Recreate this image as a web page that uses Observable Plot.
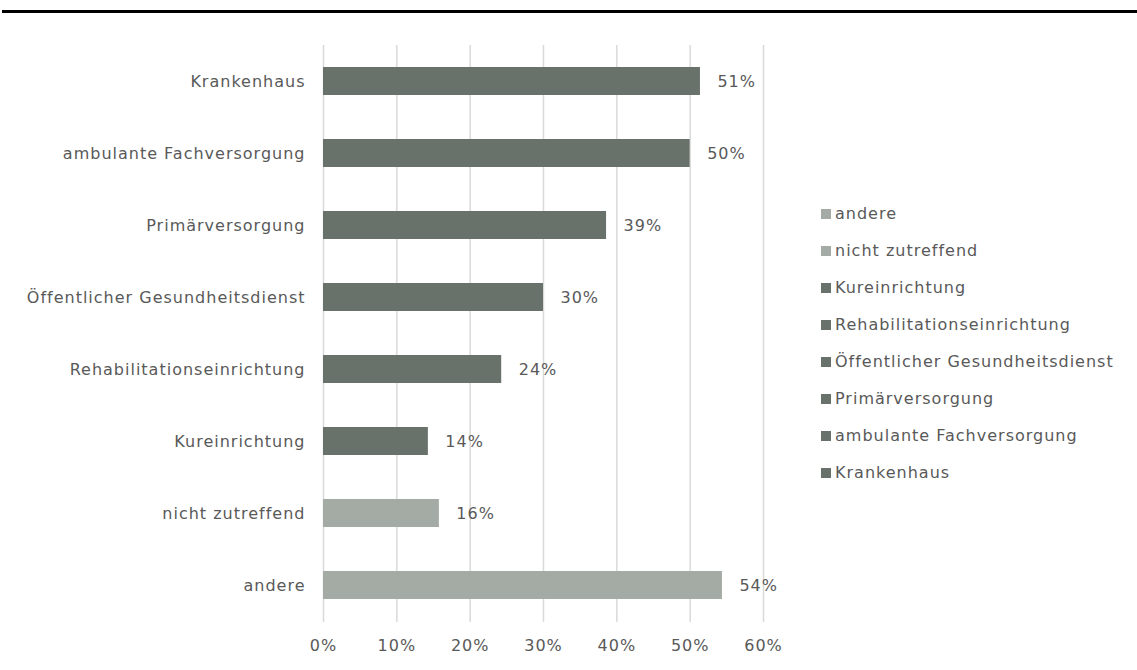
<!DOCTYPE html>
<html>
<head>
<meta charset="utf-8">
<script src="https://cdn.jsdelivr.net/npm/d3@7"></script>
<script src="https://cdn.jsdelivr.net/npm/@observablehq/plot@0.6"></script>
<style>
  html, body { margin: 0; padding: 0; background: #fff; }
  body { width: 1137px; height: 670px; position: relative; overflow: hidden; font-family: "DejaVu Sans", sans-serif; }
  #chart { position: absolute; left: 0; top: 0; }
  #topline { position: absolute; left: 2px; top: 10px; width: 1135px; height: 3px; background: #000; z-index: 2; }
  #legend { position: absolute; left: 821px; top: 195px; font-size: 16px; letter-spacing: 1px; color: #595959; z-index: 2; }
  .item { height: 37px; line-height: 37px; white-space: nowrap; }
  .sw { display: inline-block; width: 10px; height: 10px; margin-right: 4px; vertical-align: 0px; }
</style>
</head>
<body>
<div id="chart"></div>
<div id="topline"></div>
<div id="legend"></div>
<script>
const categories = ["Krankenhaus", "ambulante Fachversorgung", "Primärversorgung", "Öffentlicher Gesundheitsdienst", "Rehabilitationseinrichtung", "Kureinrichtung", "nicht zutreffend", "andere"];
const values = [0.514, 0.500, 0.386, 0.300, 0.243, 0.143, 0.158, 0.544];
const labels = ["51%", "50%", "39%", "30%", "24%", "14%", "16%", "54%"];
const groups = ["dark", "dark", "dark", "dark", "dark", "dark", "light", "light"];
const xTicks = [0, 0.1, 0.2, 0.3, 0.4, 0.5, 0.6];
const legendOrder = ["andere", "nicht zutreffend", "Kureinrichtung", "Rehabilitationseinrichtung", "Öffentlicher Gesundheitsdienst", "Primärversorgung", "ambulante Fachversorgung", "Krankenhaus"];

const colorOf = {dark: "#68716a", light: "#a3aba4"};
const data = categories.map((c, i) => ({cat: c, value: values[i], label: labels[i], group: groups[i]}));

const chart = Plot.plot({
  width: 1137,
  height: 670,
  marginLeft: 323,
  marginRight: 374,
  marginTop: 45,
  marginBottom: 48,
  style: {fontFamily: "DejaVu Sans, sans-serif", fontSize: "16px", letterSpacing: "1px", color: "#595959", background: "#fff"},
  x: {domain: [0, 0.6], ticks: xTicks, tickFormat: d3.format(".0%"), label: null},
  y: {domain: categories, paddingInner: 0.607, paddingOuter: 0.307, label: null},
  color: {domain: ["dark", "light"], range: [colorOf.dark, colorOf.light]},
  marks: [
    Plot.gridX(xTicks, {stroke: "#d9d9d9", strokeOpacity: 1, strokeWidth: 1.5}),
    Plot.barX(data, {x: "value", y: "cat", fill: "group"}),
    Plot.text(data, {x: "value", y: "cat", text: "label", dx: 17, textAnchor: "start", fill: "#595959", fontSize: 16}),
    Plot.axisX({ticks: xTicks, tickFormat: d3.format(".0%"), tickSize: 0, tickPadding: 17, label: null, fill: "#595959", fontSize: 16}),
    Plot.axisY({tickSize: 0, tickPadding: 18, label: null, fill: "#595959", fontSize: 16})
  ]
});
document.getElementById("chart").appendChild(chart);

const legend = document.getElementById("legend");
legendOrder.forEach(name => {
  const i = categories.indexOf(name);
  const item = document.createElement("div");
  item.className = "item";
  const sw = document.createElement("span");
  sw.className = "sw";
  sw.style.background = colorOf[groups[i]];
  item.appendChild(sw);
  item.appendChild(document.createTextNode(name));
  legend.appendChild(item);
});
</script>
</body>
</html>
